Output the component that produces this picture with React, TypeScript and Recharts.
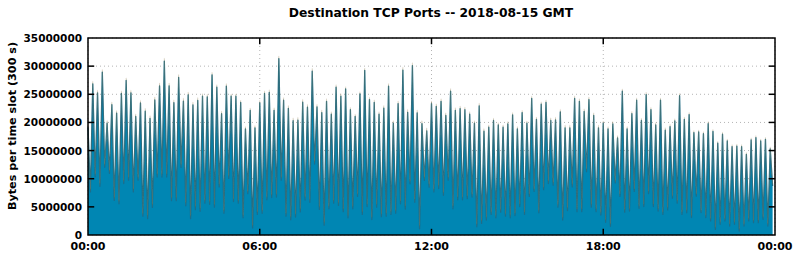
import { AreaChart, Area, XAxis, YAxis, CartesianGrid, ReferenceLine, ReferenceArea } from 'recharts'

// spike tops, read at the even 5-minute slots (million bytes)
const peaks = [
  19.9, 27.6, 26.0, 29.7, 20.6, 23.9, 22.4, 25.9, 28.2, 26.0, 21.8, 24.2, 22.8, 21.5, 24.8, 27.3, 31.7, 27.3, 24.3, 28.8, 24.6,
  25.7, 23.9, 24.7, 25.4, 25.3, 29.2, 27.0, 22.3, 27.2, 25.3, 25.3, 24.2, 19.5, 22.8, 19.7, 24.2, 25.9, 26.1, 22.9, 32.1,
  24.7, 23.3, 21.1, 21.2, 24.4, 23.5, 29.9, 23.5, 22.5, 24.5, 22.2, 27.0, 25.4, 26.6, 22.9, 21.7, 25.7, 29.9, 24.7, 24.3, 22.2,
  23.3, 27.2, 20.6, 24.1, 30.1, 22.6, 30.9, 22.5, 20.6, 19.3, 24.1, 23.6, 24.5, 22.0, 26.3, 22.9, 23.2, 23.0, 22.2, 20.6,
  23.7, 19.2, 19.8, 21.0, 20.2, 19.8, 20.4, 22.0, 19.5, 22.4, 20.5, 24.9, 21.2, 23.9, 24.3, 21.1, 21.2, 22.6, 19.8, 19.8, 25.0,
  24.5, 22.7, 24.8, 22.0, 19.8, 20.5, 19.5, 20.4, 17.9, 26.2, 19.5, 22.2, 24.6, 21.0, 25.6, 22.9, 20.2, 24.6, 19.3, 19.9,
  20.9, 25.4, 21.2, 22.0, 18.8, 18.9, 18.6, 20.4, 19.0, 16.9, 18.5, 17.3, 16.3, 16.4, 16.3, 14.9, 17.5, 17.9, 17.3, 17.6, 15.9,
]

// dips between the spikes, read at the odd slots (million bytes)
const dips = [
  8.4, 11.1, 9.4, 12.8, 11.7, 6.9, 6.3, 9.9, 10.5, 8.4, 10.5, 4.1, 3.7, 5.7, 11.1, 11.1, 11.1, 6.9, 6.9, 12.8,
  6.0, 3.7, 5.3, 5.0, 6.4, 6.2, 5.7, 9.3, 4.6, 10.8, 6.6, 6.3, 3.7, 8.0, 1.9, 4.3, 4.6, 7.0, 7.4, 7.5, 10.5,
  4.1, 3.5, 4.0, 4.9, 7.0, 6.6, 13.4, 5.3, 2.5, 5.4, 6.4, 6.0, 4.9, 3.7, 5.3, 7.5, 4.3, 5.7, 3.4, 5.7,
  4.0, 4.1, 4.4, 4.6, 6.3, 5.4, 9.9, 6.6, 1.9, 10.5, 9.3, 8.4, 9.0, 7.8, 10.5, 5.4, 7.0, 7.0, 7.2, 7.5, 2.2,
  2.8, 3.4, 4.3, 3.7, 4.7, 4.0, 3.7, 4.1, 5.7, 4.3, 7.5, 8.4, 4.6, 8.7, 9.9, 9.6, 5.7, 3.4, 5.1, 9.3,
  4.9, 4.9, 12.0, 5.7, 4.9, 4.3, 2.9, 2.2, 9.9, 7.5, 4.7, 4.9, 8.4, 5.4, 5.7, 8.0, 5.7, 4.9, 4.3, 5.1, 7.2,
  6.3, 4.3, 4.6, 3.7, 7.5, 4.6, 3.7, 3.1, 1.6, 2.5, 3.1, 2.2, 2.5, 1.3, 2.2, 3.1, 2.8, 2.8, 3.4, 2.2, 9.3,
]

// thin layers stacked on top of the main ports, one reading per hour (million bytes)
const olivePerHour = [0.45, 0.45, 0.5, 0.5, 0.45, 0.4, 0.45, 0.5, 0.45, 0.4, 0.45, 0.5, 0.45, 0.45, 0.4, 0.4, 0.45, 0.45, 0.4, 0.4, 0.4, 0.35, 0.35, 0.35]
const greyPerHour = [0.3, 0.3, 0.3, 0.3, 0.3, 0.25, 0.3, 0.3, 0.3, 0.25, 0.3, 0.3, 0.3, 0.3, 0.25, 0.25, 0.3, 0.3, 0.25, 0.25, 0.25, 0.25, 0.25, 0.25]

const hourTicks = [0, 72, 144, 216, 288]
const hourLabels = ['00:00', '06:00', '12:00', '18:00', '00:00']
const byteTicks = [0, 5000000, 10000000, 15000000, 20000000, 25000000, 30000000, 35000000]

const toRow = (slot: number, total: number) => {
  const h = Math.floor(slot / 12)
  const olive = olivePerHour[h]
  const grey = greyPerHour[h]
  return { slot, main: Math.max(0, total - olive - grey) * 1e6, olive: olive * 1e6, grey: grey * 1e6 }
}

const rows = peaks.flatMap((p, i) => [toRow(2 * i, p), toRow(2 * i + 1, dips[i])])

const font = '"DejaVu Sans", sans-serif'

const XTick = (props: any) => {
  const { x, y, payload } = props
  return (
    <text x={x} y={y} dy={9} textAnchor="middle" fontFamily={font} fontWeight="bold" fontSize={11} fill="#000">
      {hourLabels[hourTicks.indexOf(payload.value)]}
    </text>
  )
}

const YTick = (props: any) => {
  const { x, y, payload } = props
  return (
    <text x={x} y={y} dy={4} textAnchor="end" fontFamily={font} fontWeight="bold" fontSize={10.5} fill="#000">
      {payload.value}
    </text>
  )
}

export default function App() {
  const innerY = byteTicks.slice(1, -1)
  const innerX = hourTicks.slice(1, -1)
  return (
    <div style={{ position: 'absolute', left: 0, top: 0, width: 794, height: 260, background: '#fff' }}>
      <AreaChart width={794} height={260} data={rows} margin={{ top: 38, right: 19, bottom: 0, left: 0 }}>
        <CartesianGrid stroke="#b4b4b4" strokeDasharray="1 3" />
        <XAxis
          dataKey="slot"
          type="number"
          domain={[0, 288]}
          ticks={hourTicks}
          height={25}
          tickSize={0}
          tickMargin={6}
          axisLine={false}
          tickLine={false}
          tick={<XTick />}
        />
        <YAxis
          type="number"
          domain={[0, 35000000]}
          ticks={byteTicks}
          width={88}
          tickSize={0}
          tickMargin={6}
          axisLine={false}
          tickLine={false}
          tick={<YTick />}
          allowDataOverflow
        />
        <Area type="linear" dataKey="main" stackId="a" fill="#0086b3" fillOpacity={1} stroke="#1a6d8e" strokeWidth={1.3} strokeLinejoin="round" dot={false} activeDot={false} isAnimationActive={false} />
        <Area type="linear" dataKey="olive" stackId="a" fill="#8a7b3c" fillOpacity={1} stroke="#8a7b3c" strokeWidth={0.6} strokeOpacity={0.25} dot={false} activeDot={false} isAnimationActive={false} />
        <Area type="linear" dataKey="grey" stackId="a" fill="#bdb6c6" fillOpacity={1} stroke="none" dot={false} activeDot={false} isAnimationActive={false} />
        {innerY.map((v) => (
          <ReferenceLine key={'l' + v} segment={[{ x: 0, y: v }, { x: 2.6, y: v }]} stroke="#000" strokeWidth={1.5} />
        ))}
        {innerY.map((v) => (
          <ReferenceLine key={'r' + v} segment={[{ x: 285.4, y: v }, { x: 288, y: v }]} stroke="#000" strokeWidth={1.5} />
        ))}
        {innerX.map((t) => (
          <ReferenceLine key={'b' + t} segment={[{ x: t, y: 0 }, { x: t, y: 1100000 }]} stroke="#000" strokeWidth={1.5} />
        ))}
        {innerX.map((t) => (
          <ReferenceLine key={'t' + t} segment={[{ x: t, y: 35000000 }, { x: t, y: 33900000 }]} stroke="#000" strokeWidth={1.5} />
        ))}
        <ReferenceArea x1={0} x2={288} y1={0} y2={35000000} fill="none" fillOpacity={0} stroke="#000" strokeWidth={1.5} />
      </AreaChart>
      <svg width={794} height={260} style={{ position: 'absolute', left: 0, top: 0, pointerEvents: 'none' }}>
        <text x={431} y={17} textAnchor="middle" fontFamily={font} fontWeight="bold" fontSize={12.3} fill="#000">
          Destination TCP Ports -- 2018-08-15 GMT
        </text>
        <text x={16} y={126} transform="rotate(-90 16 126)" textAnchor="middle" fontFamily={font} fontWeight="bold" fontSize={11.2} fill="#000">
          Bytes per time slot (300 s)
        </text>
      </svg>
    </div>
  )
}
